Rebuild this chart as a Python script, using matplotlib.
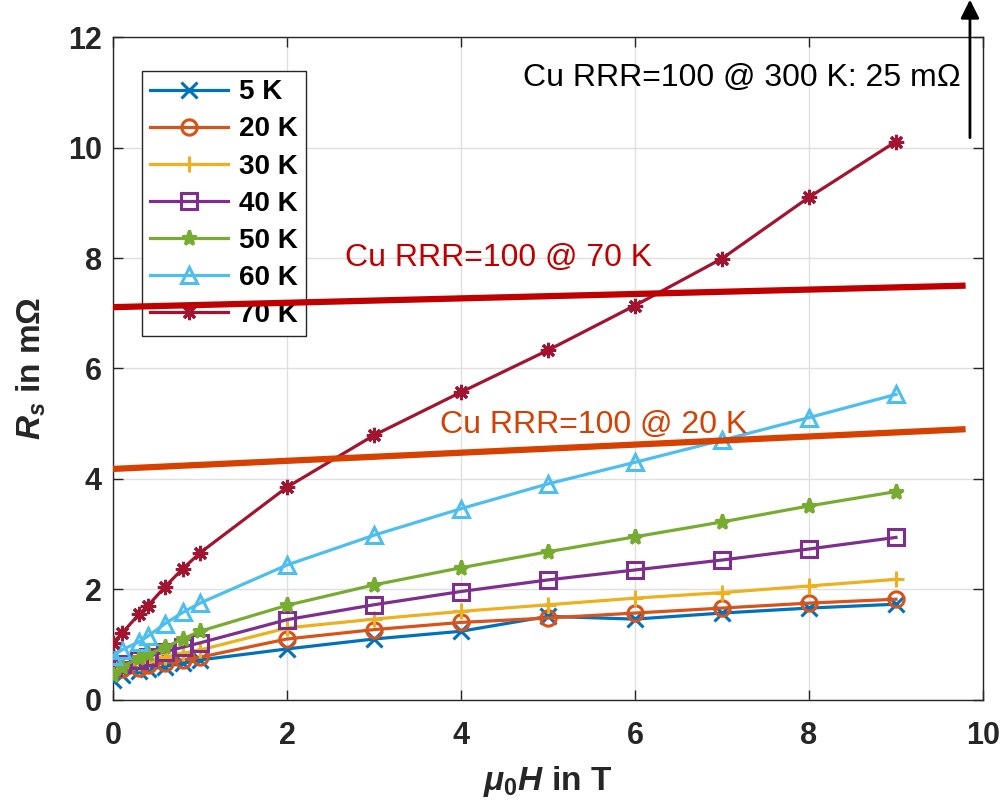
import matplotlib
matplotlib.use("Agg")
import matplotlib.pyplot as plt

plt.rcParams['font.family'] = ['Liberation Sans', 'DejaVu Sans']
plt.rcParams['mathtext.fontset'] = 'custom'
plt.rcParams['mathtext.rm'] = 'Liberation Sans:bold'
plt.rcParams['mathtext.it'] = 'Liberation Sans:bold:italic'
plt.rcParams['mathtext.bf'] = 'Liberation Sans:bold'

# field in T
field = [0, 0.1, 0.3, 0.4, 0.6, 0.8, 1, 2, 3, 4, 5, 6, 7, 8, 9]

# surface resistance in mOhm
rs_5K = [0.35, 0.45, 0.52, 0.55, 0.60, 0.66, 0.72, 0.92, 1.10, 1.24, 1.51, 1.46, 1.57, 1.66, 1.73]
rs_20K = [0.60, 0.55, 0.58, 0.62, 0.67, 0.72, 0.77, 1.10, 1.27, 1.40, 1.48, 1.57, 1.66, 1.75, 1.82]
rs_30K = [0.55, 0.60, 0.66, 0.70, 0.77, 0.84, 0.90, 1.30, 1.46, 1.60, 1.72, 1.84, 1.94, 2.06, 2.18]
rs_40K = [0.60, 0.65, 0.72, 0.78, 0.87, 0.95, 1.03, 1.45, 1.72, 1.96, 2.17, 2.35, 2.53, 2.73, 2.94]
rs_50K = [0.45, 0.60, 0.75, 0.82, 0.95, 1.10, 1.24, 1.71, 2.08, 2.39, 2.68, 2.95, 3.22, 3.51, 3.77]
rs_60K = [0.80, 0.90, 1.05, 1.15, 1.38, 1.58, 1.75, 2.44, 2.98, 3.46, 3.91, 4.30, 4.70, 5.11, 5.53]
rs_70K = [1.03, 1.20, 1.55, 1.70, 2.05, 2.37, 2.66, 3.85, 4.79, 5.57, 6.33, 7.14, 7.99, 9.10, 10.11]

labels = ['5 K', '20 K', '30 K', '40 K', '50 K', '60 K', '70 K']
series = [rs_5K, rs_20K, rs_30K, rs_40K, rs_50K, rs_60K, rs_70K]
colors = ['#0072BD', '#D95319', '#EDB120', '#7E2F8E', '#77AC30', '#4DBEEE', '#A2142F']
markers = ['x', 'o', '+', 's', '*', '^', (8, 2, 0)]

# copper reference lines (RRR=100)
cu_field = [0, 9.8]
cu_70K = [7.11, 7.50]
cu_20K = [4.18, 4.90]

fig = plt.figure(figsize=(10, 8.08), dpi=100)
ax = fig.add_axes([0.113, 0.134, 0.870, 0.820])

for rs, lab, c, m in zip(series, labels, colors, markers):
    filled = m in ('*',)
    ax.plot(field, rs, color=c, marker=m, lw=2.3, ms=11, mew=2.2,
            mfc=c if filled else 'none', label=lab, zorder=3)

ax.plot(cu_field, cu_70K, color='#C00000', lw=4.5, zorder=6, solid_capstyle='butt')
ax.plot(cu_field, cu_20K, color='#D64000', lw=4.5, zorder=6, solid_capstyle='butt')

ax.text(2.67, 8.01, 'Cu RRR=100 @ 70 K', color='#C00000', fontsize=23,
        ha='left', va='center')
ax.text(3.76, 4.97, 'Cu RRR=100 @ 20 K', color='#D64000', fontsize=23,
        ha='left', va='center')
ax.text(9.74, 11.27, 'Cu RRR=100 @ 300 K: 25 mΩ', color='black', fontsize=23,
        ha='right', va='center')
ax.annotate('', xy=(9.85, 12.68), xytext=(9.85, 10.18), annotation_clip=False,
            arrowprops=dict(arrowstyle='-|>', color='black', lw=2,
                            mutation_scale=28, shrinkA=0, shrinkB=0))

ax.set_xlim(0, 10)
ax.set_ylim(0, 12)
ax.set_xticks(range(0, 11, 2))
ax.set_yticks(range(0, 13, 2))
ax.grid(True, color='#DFDFDF', lw=1)
ax.set_axisbelow(True)
for s in ax.spines.values():
    s.set_color('#262626')
    s.set_linewidth(1)
ax.tick_params(direction='in', length=7, width=1, top=True, right=True,
               colors='#262626', labelsize=22)
ax.tick_params(axis='x', pad=15)
ax.tick_params(axis='y', pad=8)
for t in ax.get_xticklabels() + ax.get_yticklabels():
    t.set_fontweight('bold')

ax.set_xlabel(r'$\mu_0H$ in T', fontsize=24, fontweight='bold', color='#262626', labelpad=10)
ax.set_ylabel(r'$R_s$ in mΩ', fontsize=24, fontweight='bold', color='#262626', labelpad=14)

leg = ax.legend(loc='upper left', bbox_to_anchor=(0.033, 0.949), borderaxespad=0,
                fancybox=False, framealpha=1, edgecolor='#262626',
                prop={'size': 20, 'weight': 'bold'}, handlelength=2.8,
                labelspacing=0.4, borderpad=0.3, handletextpad=0.4)
leg.get_frame().set_linewidth(1)

fig.savefig('out.png', dpi=100)
